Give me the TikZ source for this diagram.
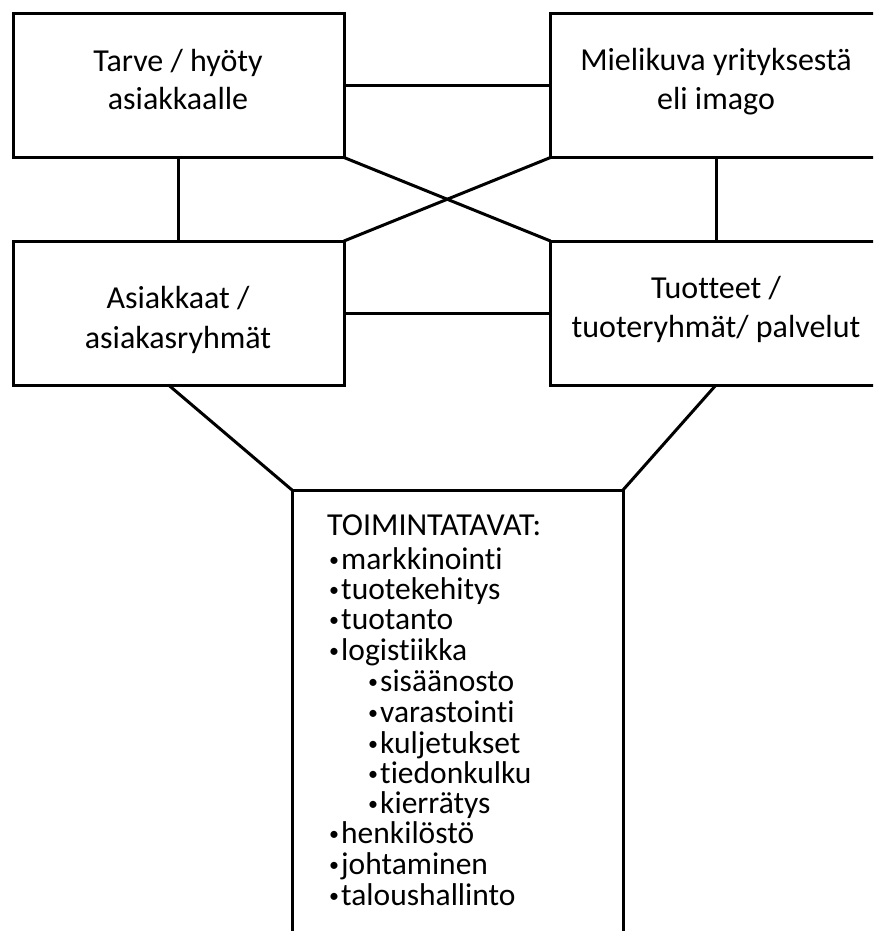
\documentclass[tikz,border=0pt]{standalone}
\usepackage{fontspec}
\setmainfont{Carlito}[Ligatures=NoCommon]
\newcommand{\mybul}{\makebox[12pt][l]{\raisebox{3pt}{\fontsize{20}{20}\selectfont •}}}
\begin{document}
\begin{tikzpicture}[x=1pt,y=-1pt,
  box/.style={draw, line width=3pt, minimum width=331pt, minimum height=144pt, inner sep=0pt, outer sep=0pt},
  conn/.style={draw, line width=3pt},
  boxtext/.style={anchor=base, inner sep=0pt, font=\fontsize{32}{38}\selectfont},
  headtext/.style={anchor=base west, inner sep=0pt, font=\fontsize{32}{36}\selectfont},
  itemtext/.style={anchor=base west, inner sep=0pt, font=\fontsize{31.5}{30}\selectfont}]
\useasboundingbox (0,0) rectangle (873,931);
\clip (0,0) rectangle (873,931);
\fill[white] (0,0) rectangle (873,931);
% boxes
\node[box] (tl) at (178.5,85.5) {};
\node[box] (tr) at (716,85.5) {};
\node[box] (bl) at (178.5,313) {};
\node[box] (br) at (716,313) {};
\node[box, minimum height=600pt] (ops) at (457.5,790) {};
% connectors
\draw[conn] (tl.east) -- (tr.west);
\draw[conn] (bl.east) -- (br.west);
\draw[conn] (tl.south) -- (bl.north);
\draw[conn] (tr.south) -- (br.north);
\draw[conn] (tl.south east) -- (br.north west);
\draw[conn] (bl.north east) -- (tr.south west);
\draw[conn] ([xshift=-10pt]bl.south) -- (ops.north west);
\draw[conn] (br.south) -- (ops.north east);
% box texts
\node[boxtext] (tl1) at (178,72) {Tarve / hyöty};
\node[boxtext] (tl2) at (178,110) {asiakkaalle};
\node[boxtext] (tr1) at (716,71) {Mielikuva yrityksestä};
\node[boxtext] (tr2) at (716,110) {eli imago};
\node[boxtext] (bl1) at (178,308) {Asiakkaat /};
\node[boxtext] (bl2) at (178,348) {asiakasryhmät};
\node[boxtext] (br1) at (716,298) {Tuotteet /};
\node[boxtext] (br2) at (716,337) {tuoteryhmät/ palvelut};
% list
\node[headtext] (head) at (327,535) {TOIMINTATAVAT:};
\foreach \n/\x/\y/\t in {1/329/569/markkinointi, 2/329/599/tuotekehitys, 3/329/629/tuotanto, 4/329/660/logistiikka,
  5/368/691/sisäänosto, 6/368/722/varastointi, 7/368/753/kuljetukset, 8/368/783/tiedonkulku, 9/368/813/kierrätys,
  10/329/843/henkilöstö, 11/329/874/johtaminen, 12/329/905/taloushallinto}
  \node[itemtext] (i\n) at (\x,\y) {\mybul\t};
\end{tikzpicture}
\end{document}
